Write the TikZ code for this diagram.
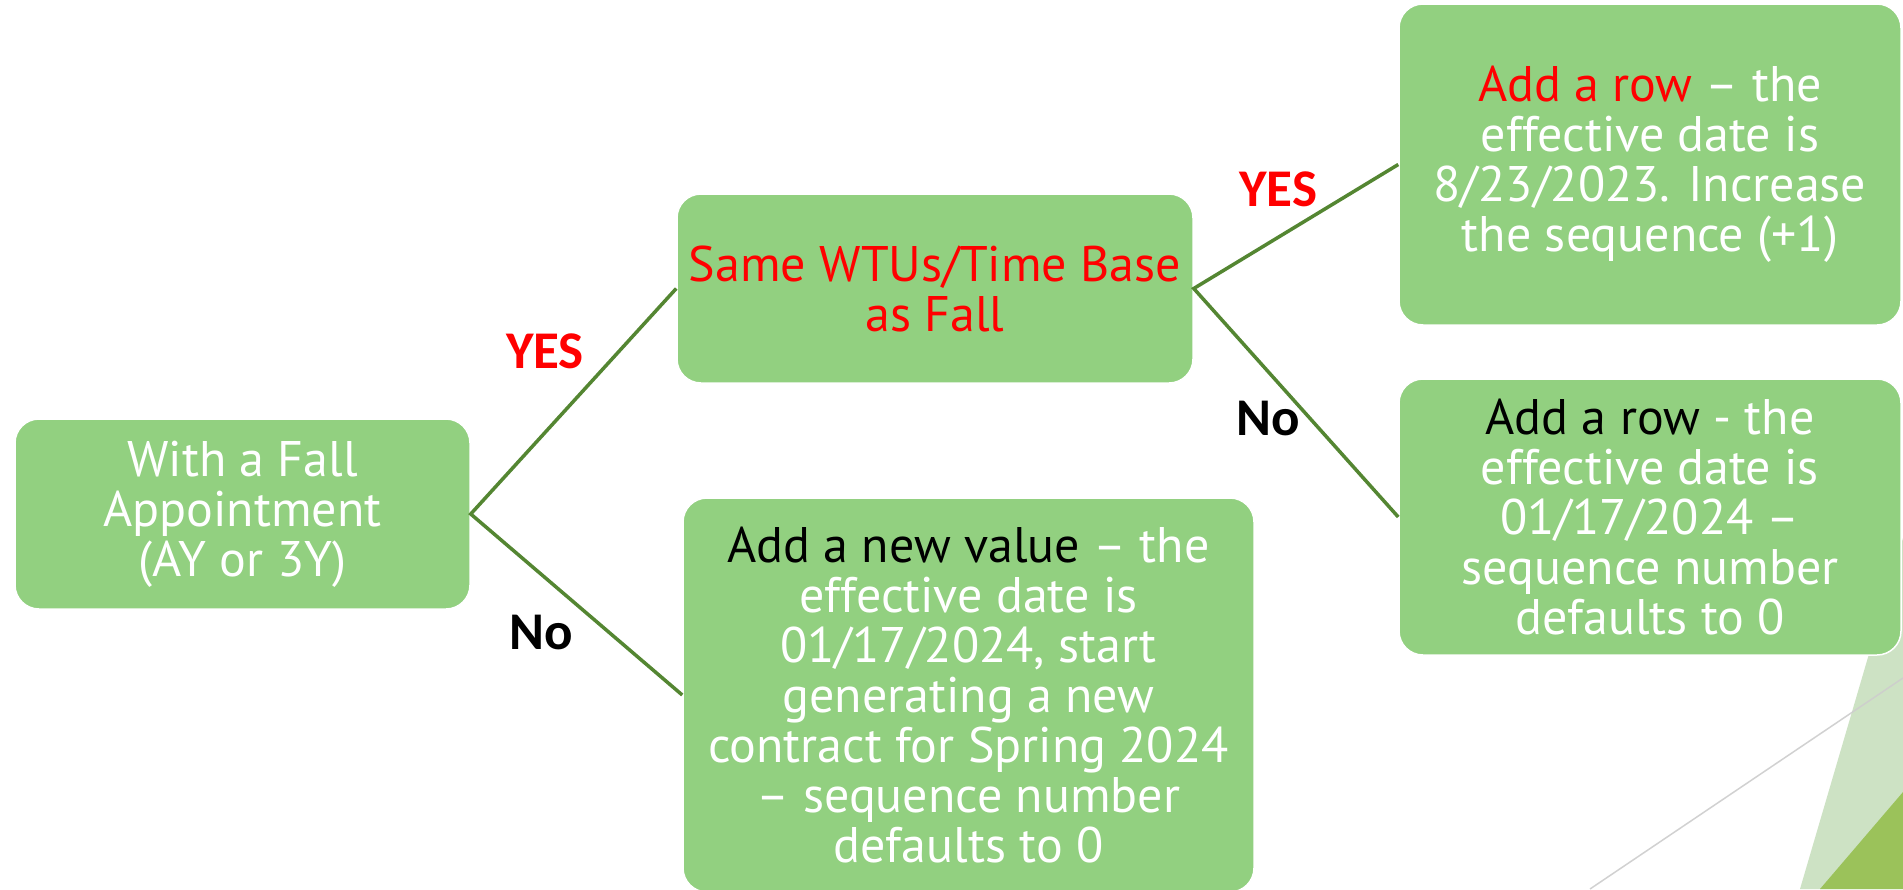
\documentclass[tikz,border=0pt]{standalone}
\usepackage{fontspec}
\setmainfont{PT Sans}
\newfontfamily\lblfont{Carlito}
\definecolor{boxgreen}{RGB}{146,208,128}
\definecolor{linegreen}{RGB}{84,134,50}
\definecolor{lightdeco}{RGB}{205,226,196}
\definecolor{darkdeco}{RGB}{155,194,90}
\definecolor{decoline}{RGB}{205,205,205}
\tikzset{
  stepbox/.style={draw=white, line width=1.5pt, fill=boxgreen, rounded corners=24pt,
    align=center, text=white, inner sep=0pt,
    font=\fontsize{50}{50}\selectfont},
  conn/.style={draw=linegreen, line width=3.5pt},
  yeslbl/.style={text=red, font=\lblfont\bfseries\fontsize{53}{60}\selectfont},
  nolbl/.style={text=black, font=\lblfont\bfseries\fontsize{53}{60}\selectfont}
}
\begin{document}
\begin{tikzpicture}[x=1pt,y=-1pt]
\useasboundingbox (0,0) rectangle (1903,889);
\clip (0,0) rectangle (1903,889);
\fill[white] (0,0) rectangle (1903,889);
% decoration
\fill[lightdeco] (1800,889) -- (1903,538) -- (1903,889) -- cycle;
\fill[darkdeco] (1820,889) -- (1903,792) -- (1903,889) -- cycle;
\coordinate (g1) at (1590,889);
\coordinate (g2) at (1903,678);
\draw[decoline, line width=1.5pt, opacity=0.9] (g1) -- (g2);
% boxes
\node[stepbox, minimum width=455pt, minimum height=190pt] (b1) at (242.5,514)
  {With a Fall\\Appointment\\(AY or 3Y)};
\node[stepbox, minimum width=516pt, minimum height=189pt, text=red] (b2) at (935,288.5)
  {Same WTUs/Time Base\\as Fall};
\node[stepbox, minimum width=502pt, minimum height=321pt] (b3) at (1650,164.5)
  {\textcolor{red}{Add a row} – the\\effective date is\\8/23/2023. Increase\\the sequence (+1)};
\node[stepbox, minimum width=502pt, minimum height=276pt] (b4) at (1650,517)
  {\textcolor{black}{Add a row} - the\\effective date is\\01/17/2024 –\\sequence number\\defaults to 0};
\node[stepbox, minimum width=571pt, minimum height=394pt] (b5) at (968.5,695)
  {\textcolor{black}{Add a new value} – the\\effective date is\\01/17/2024, start\\generating a new\\contract for Spring 2024\\– sequence number\\defaults to 0};
% connectors
\draw[conn] (b2.west) -- (b1.east) -- (b5.west);
\draw[conn] (b3.west) -- (b2.east) -- (b4.west);
% labels
\node[yeslbl] (y1) at (545,351) {YES};
\node[nolbl] (n1) at (541,633) {No};
\node[yeslbl] (y2) at (1278,189) {YES};
\node[nolbl] (n2) at (1268,419) {No};
\end{tikzpicture}
\end{document}
